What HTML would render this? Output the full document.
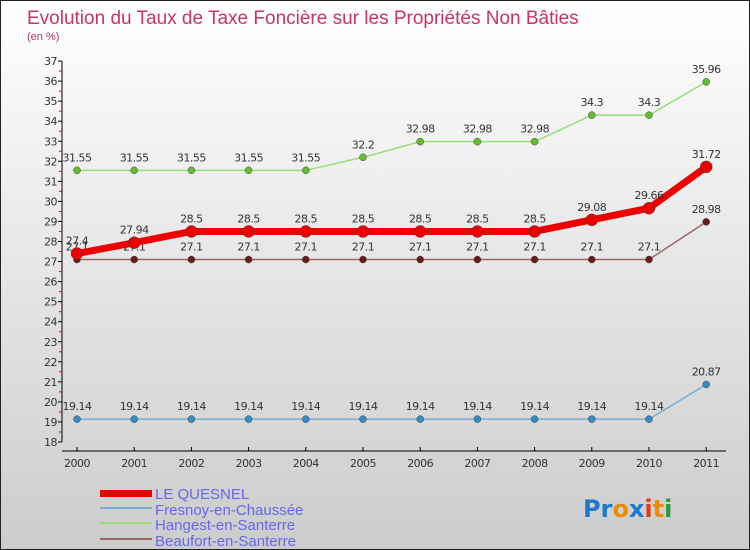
<!DOCTYPE html>
<html><head><meta charset="utf-8"><style>
body{margin:0}
#c{position:relative;width:748px;height:548px;border:1px solid #222;background:linear-gradient(#fff,#ccc);font-family:"DejaVu Sans","Liberation Sans",sans-serif;overflow:hidden}
</style></head><body>
<div id="c">
<svg id="s" width="748" height="548" style="position:absolute;left:0;top:0">
<text x="26" y="23" font-size="19" fill="#c8336a" font-family="Liberation Sans">Evolution du Taux de Taxe Foncière sur les Propriétés Non Bâties</text>
<text x="26" y="39" font-size="11" fill="#c8336a" font-family="Liberation Sans">(en %)</text>
<g id="ax"></g><g id="ser"></g>
<g font-size="15" fill="#6666ee" font-family="Liberation Sans">
<rect x="99" y="489" width="52" height="7" fill="#e00"/>
<text x="154" y="498">LE QUESNEL</text>
<rect x="99" y="506" width="52" height="2" fill="#7aaccc"/>
<text x="154" y="514">Fresnoy-en-Chaussée</text>
<rect x="99" y="521" width="52" height="2" fill="#99dd77"/>
<text x="154" y="529">Hangest-en-Santerre</text>
<rect x="99" y="537" width="52" height="2" fill="#996666"/>
<text x="154" y="545">Beaufort-en-Santerre</text>
</g>
<text x="582" y="516" font-size="24" font-weight="bold"><tspan fill="#1a7ad0">Pr</tspan><tspan fill="#f08a00">o</tspan><tspan fill="#1a7ad0">x</tspan><tspan fill="#e03a10">i</tspan><tspan fill="#f08a00">t</tspan><tspan fill="#2a9a40">i</tspan></text>
</svg>
</div>
<script>
const years=["2000","2001","2002","2003","2004","2005","2006","2007","2008","2009","2010","2011"];
const quesnel=[27.4,27.94,28.5,28.5,28.5,28.5,28.5,28.5,28.5,29.08,29.66,31.72];
const fresnoy=[19.14,19.14,19.14,19.14,19.14,19.14,19.14,19.14,19.14,19.14,19.14,20.87];
const hangest=[31.55,31.55,31.55,31.55,31.55,32.2,32.98,32.98,32.98,34.3,34.3,35.96];
const beaufort=[27.1,27.1,27.1,27.1,27.1,27.1,27.1,27.1,27.1,27.1,27.1,28.98];
const yTicks=[18,19,20,21,22,23,24,25,26,27,28,29,30,31,32,33,34,35,36,37];
const NS="http://www.w3.org/2000/svg";
const X=i=>76+i*57.2, Y=v=>441-(v-18)*20.05;
function mk(p,t,a){const e=document.createElementNS(NS,t);for(const k in a)e.setAttribute(k,a[k]);p.appendChild(e);return e;}
const ax=document.getElementById('ax');
mk(ax,'line',{x1:61,y1:60,x2:61,y2:441,stroke:'#000'});
mk(ax,'line',{x1:61,y1:450,x2:725,y2:450,stroke:'#000'});
yTicks.forEach(v=>{mk(ax,'line',{x1:57,y1:Y(v),x2:61,y2:Y(v),stroke:'#000'});
 if(v<37)mk(ax,'line',{x1:58,y1:Y(v+0.5),x2:61,y2:Y(v+0.5),stroke:'#e00'});
 const t=mk(ax,'text',{x:56,y:Y(v)+4,'font-size':11,'text-anchor':'end',fill:'#333','letter-spacing':'-0.5'});t.textContent=v;
 });
years.forEach((y,i)=>{mk(ax,'line',{x1:X(i),y1:446,x2:X(i),y2:450,stroke:'#000'});
 const t=mk(ax,'text',{x:X(i),y:466,'font-size':11,'text-anchor':'middle',fill:'#333','letter-spacing':'-0.5'});t.textContent=y;
 });
const ser=document.getElementById('ser');
function draw(name,d,col,dot,w,r){
 const g=mk(ser,'g',{});
 mk(g,'polyline',{points:d.map((v,i)=>X(i)+','+Y(v)).join(' '),fill:'none',stroke:col,'stroke-width':w,'stroke-linejoin':'round'});
 d.forEach((v,i)=>{const c=mk(g,'circle',{cx:X(i),cy:Y(v),r:r,fill:dot,stroke:'#444','stroke-width':0.5});
  
  const t=mk(g,'text',{x:X(i),y:Y(v)-9,'font-size':11,'text-anchor':'middle',fill:'#333','letter-spacing':'-0.5'});t.textContent=v;
  });
}
draw('fresnoy',fresnoy,'#7aaccc','#3a8ac4',1.5,3.5);
draw('hangest',hangest,'#99dd77','#66bb33',1.5,3.5);
draw('beaufort',beaufort,'#996666','#6a1a1a',1.5,3.5);
draw('le-quesnel',quesnel,'#ee0000','#ee0000',7,6);
</script>
</body></html>
